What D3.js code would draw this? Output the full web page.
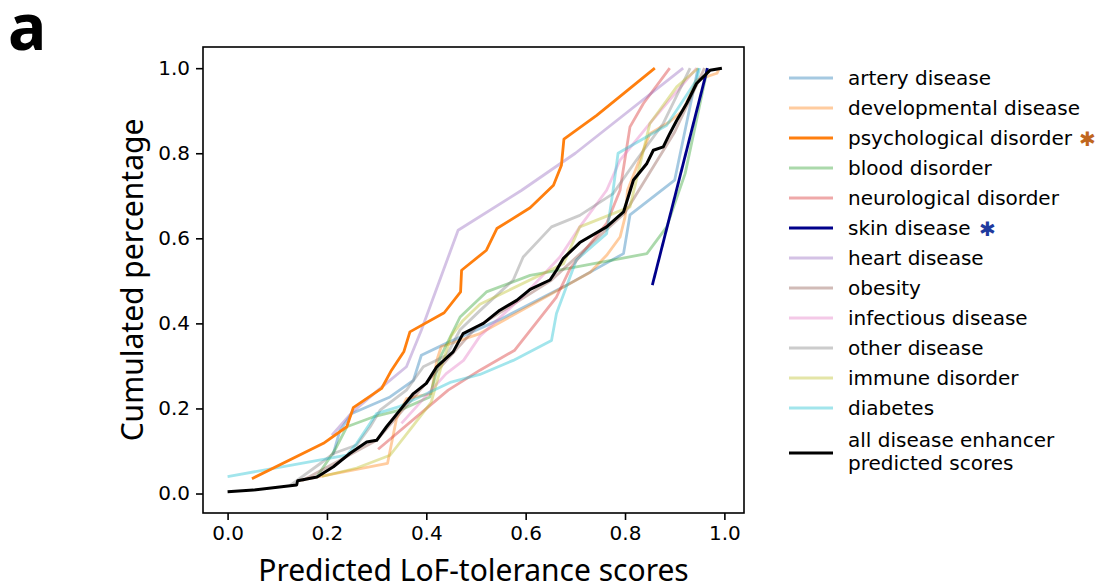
<!DOCTYPE html>
<html lang="en">
<head>
<meta charset="utf-8">
<title>Predicted LoF-tolerance scores</title>
<!-- D3 library -->
<script src="https://d3js.org/d3.v7.min.js"></script>
<style>
  body { margin: 0; background: white; }
  svg text { font-family: "DejaVu Sans", sans-serif; fill: black; }
  .ax text { font-size: 20px; }
  .title { font-family: "Noto Sans", sans-serif !important; }
</style>
</head>
<body>
<div id="chart"></div>
<script>
// ============= data =========
var diseaseNames = ["artery disease", "developmental disease", "psychological disorder",
  "blood disorder", "neurological disorder", "skin disease", "heart disease", "obesity",
  "infectious disease", "other disease", "immune disorder", "diabetes",
  "all disease enhancer predicted scores"];

// each series: [score, cumulated percentage]
var artery = [[0.212,0.09],[0.226,0.148],[0.25,0.188],[0.327,0.227],[0.374,0.266],[0.39,0.325],
  [0.44,0.353],[0.55,0.41],[0.683,0.49],[0.797,0.564],[0.81,0.655],[0.90,0.737],[0.947,1.0]];
var developmental = [[0.14,0.03],[0.322,0.071],[0.34,0.176],[0.36,0.223],[0.41,0.235],[0.421,0.313],
  [0.43,0.345],[0.508,0.376],[0.73,0.52],[0.763,0.56],[0.79,0.603],[0.80,0.65],[0.805,0.713],
  [0.85,0.846],[0.89,0.874],[0.917,0.901],[0.944,0.972],[0.985,0.988],[0.99,1.0]];
var psychological = [[0.049,0.035],[0.193,0.118],[0.24,0.157],[0.253,0.202],[0.31,0.247],[0.33,0.29],
  [0.355,0.334],[0.367,0.38],[0.436,0.425],[0.469,0.474],[0.471,0.525],[0.521,0.572],[0.542,0.623],
  [0.609,0.672],[0.656,0.725],[0.672,0.772],[0.677,0.833],[0.743,0.889],[0.80,0.943],[0.86,1.0]];
var blood = [[0.18,0.04],[0.216,0.102],[0.24,0.157],[0.293,0.18],[0.347,0.196],[0.407,0.227],
  [0.428,0.32],[0.468,0.415],[0.521,0.474],[0.609,0.513],[0.689,0.53],[0.844,0.564],[0.884,0.627],
  [0.921,0.752],[0.964,0.988],[0.965,1.0]];
var neurological = [[0.303,0.104],[0.444,0.243],[0.508,0.29],[0.578,0.337],[0.662,0.462],[0.69,0.53],
  [0.763,0.635],[0.79,0.713],[0.81,0.862],[0.837,0.917],[0.89,1.0]];
var skin = [[0.855,0.49],[0.966,1.0]];
var heart = [[0.21,0.137],[0.25,0.19],[0.3,0.24],[0.36,0.298],[0.39,0.384],[0.464,0.619],
  [0.592,0.713],[0.70,0.80],[0.917,1.0]];
var obesity = [[0.15,0.03],[0.3,0.125],[0.4,0.26],[0.5,0.39],[0.65,0.5],[0.8,0.66],[0.9,0.85],[0.96,1.0]];
var infectious = [[0.35,0.165],[0.44,0.282],[0.475,0.313],[0.508,0.37],[0.60,0.47],[0.669,0.556],
  [0.709,0.627],[0.763,0.713],[0.79,0.784],[0.85,0.87],[0.944,1.0]];
var other = [[0.126,0.019],[0.186,0.07],[0.213,0.094],[0.26,0.114],[0.287,0.157],[0.307,0.196],
  [0.36,0.243],[0.394,0.298],[0.441,0.325],[0.468,0.385],[0.508,0.43],[0.575,0.502],[0.595,0.556],
  [0.652,0.627],[0.709,0.654],[0.776,0.705],[0.823,0.784],[0.877,0.87],[0.931,1.0]];
var immune = [[0.19,0.04],[0.26,0.06],[0.327,0.09],[0.374,0.16],[0.41,0.215],[0.428,0.29],
  [0.45,0.37],[0.474,0.407],[0.508,0.445],[0.676,0.54],[0.709,0.627],[0.81,0.674],[0.85,0.87],
  [0.904,0.956],[0.947,1.0]];
var diabetes = [[0,0.04],[0.126,0.066],[0.24,0.09],[0.26,0.118],[0.30,0.188],[0.347,0.205],
  [0.45,0.262],[0.508,0.28],[0.575,0.313],[0.652,0.36],[0.662,0.423],[0.702,0.549],[0.763,0.611],
  [0.776,0.713],[0.786,0.80],[0.884,0.866],[0.944,0.972],[0.95,1.0]];
var allDisease = [[0,0.004],[0.052,0.008],[0.139,0.02],[0.141,0.03],[0.18,0.039],[0.213,0.063],
  [0.246,0.094],[0.28,0.121],[0.30,0.125],[0.32,0.157],[0.347,0.196],[0.374,0.235],[0.40,0.259],
  [0.421,0.298],[0.454,0.333],[0.474,0.376],[0.501,0.392],[0.515,0.40],[0.548,0.431],[0.582,0.454],
  [0.609,0.48],[0.649,0.502],[0.662,0.525],[0.676,0.553],[0.709,0.59],[0.763,0.627],[0.797,0.662],
  [0.817,0.737],[0.844,0.776],[0.857,0.807],[0.877,0.815],[0.890,0.846],[0.904,0.877],[0.924,0.917],
  [0.944,0.964],[0.958,0.98],[0.971,0.995],[0.995,1.0]];

var xTicks = [0.0, 0.2, 0.4, 0.6, 0.8, 1.0];
var yTicks = [0.0, 0.2, 0.4, 0.6, 0.8, 1.0];

// ============= styles =========
var seriesData = [artery, developmental, psychological, blood, neurological, skin, heart,
  obesity, infectious, other, immune, diabetes, allDisease];
var colors = ["#1f77b4", "#ff7f0e", "#ff7f0e", "#2ca02c", "#d62728", "#00008b", "#9467bd",
  "#8c564b", "#e377c2", "#7f7f7f", "#bcbd22", "#17becf", "#000000"];
var alphas = [0.4, 0.4, 1, 0.4, 0.4, 1, 0.4, 0.4, 0.4, 0.4, 0.4, 0.4, 1];

var width = 1097;
var height = 586;
// plot box (note: "top" is reserved on window, so use other names)
var plotLeft = 203, plotRight = 744, plotTop = 47, plotBottom = 513;

var svg = d3.select("#chart")
  .append("svg")
  .attr("width", width)
  .attr("height", height);

// matplotlib-like 5% margins around the data
var x = d3.scaleLinear().domain([-0.0495, 1.0395]).range([plotLeft, plotRight]);
var y = d3.scaleLinear().domain([-0.0458, 1.0498]).range([plotBottom, plotTop]);

var line = d3.line()
  .x(function(d) { return x(d[0]); })
  .y(function(d) { return y(d[1]); });

// pale lines first, then the strong ones on top
var order = [0, 1, 3, 4, 6, 7, 8, 9, 10, 11, 2, 5, 12];
order.forEach(function(i) {
  svg.append("path")
    .datum(seriesData[i])
    .attr("d", line)
    .attr("fill", "none")
    .attr("stroke", colors[i])
    .attr("stroke-opacity", alphas[i])
    .attr("stroke-width", i == 12 ? 3 : 2.8)
    .attr("stroke-linejoin", "round");
});

// axes
svg.append("g")
  .attr("class", "ax")
  .attr("transform", "translate(0," + plotBottom + ")")
  .call(d3.axisBottom(x).tickValues(xTicks).tickFormat(d3.format(".1f")).tickSize(7).tickPadding(6).tickSizeOuter(0));
svg.append("g")
  .attr("class", "ax")
  .attr("transform", "translate(" + plotLeft + ",0)")
  .call(d3.axisLeft(y).tickValues(yTicks).tickFormat(d3.format(".1f")).tickSize(7).tickPadding(6).tickSizeOuter(0));
svg.selectAll(".ax .domain").remove();
svg.selectAll(".ax line").attr("stroke", "black").attr("stroke-width", 1.6);
svg.selectAll(".ax text").style("font-family", "DejaVu Sans").style("font-size", "20px");

// frame
svg.append("rect")
  .attr("x", plotLeft).attr("y", plotTop)
  .attr("width", plotRight - plotLeft).attr("height", plotBottom - plotTop)
  .attr("fill", "none")
  .attr("stroke", "black")
  .attr("stroke-width", 1.6);

// axis titles
svg.append("text")
  .attr("class", "title")
  .attr("x", (plotLeft + plotRight) / 2)
  .attr("y", 581)
  .attr("text-anchor", "middle")
  .style("font-size", "30px")
  .text("Predicted LoF-tolerance scores");
svg.append("text")
  .attr("class", "title")
  .attr("transform", "translate(143," + ((plotTop + plotBottom) / 2) + ") rotate(-90)")
  .attr("text-anchor", "middle")
  .style("font-size", "30px")
  .text("Cumulated percentage");

// panel letter
svg.append("text")
  .attr("class", "title")
  .attr("x", 8)
  .attr("y", 50)
  .style("font-size", "64px")
  .style("font-weight", "bold")
  .text("a");

// ============= legend =========
var legend = svg.append("g").attr("transform", "translate(789,78)");
diseaseNames.forEach(function(name, i) {
  var ly = i * 30;
  if (i == 12) ly = 375;
  legend.append("line")
    .attr("x1", 0).attr("x2", 44)
    .attr("y1", ly).attr("y2", ly)
    .attr("stroke", colors[i])
    .attr("stroke-opacity", alphas[i])
    .attr("stroke-width", 3);
  var t = legend.append("text")
    .attr("x", 59)
    .style("font-size", "20px");
  if (i == 12) {
    t.append("tspan").attr("x", 59).attr("y", 369).text("all disease enhancer");
    t.append("tspan").attr("x", 59).attr("y", 392).text("predicted scores");
  } else {
    t.attr("y", ly + 7).text(name);
  }
});
// significance marks
legend.append("text").attr("x", 290).attr("y", 68).style("font-size", "20px")
  .style("fill", "#c0661e").text("✱");
legend.append("text").attr("x", 190).attr("y", 158).style("font-size", "20px")
  .style("fill", "#1f3a9e").text("✱");
</script>
</body>
</html>
